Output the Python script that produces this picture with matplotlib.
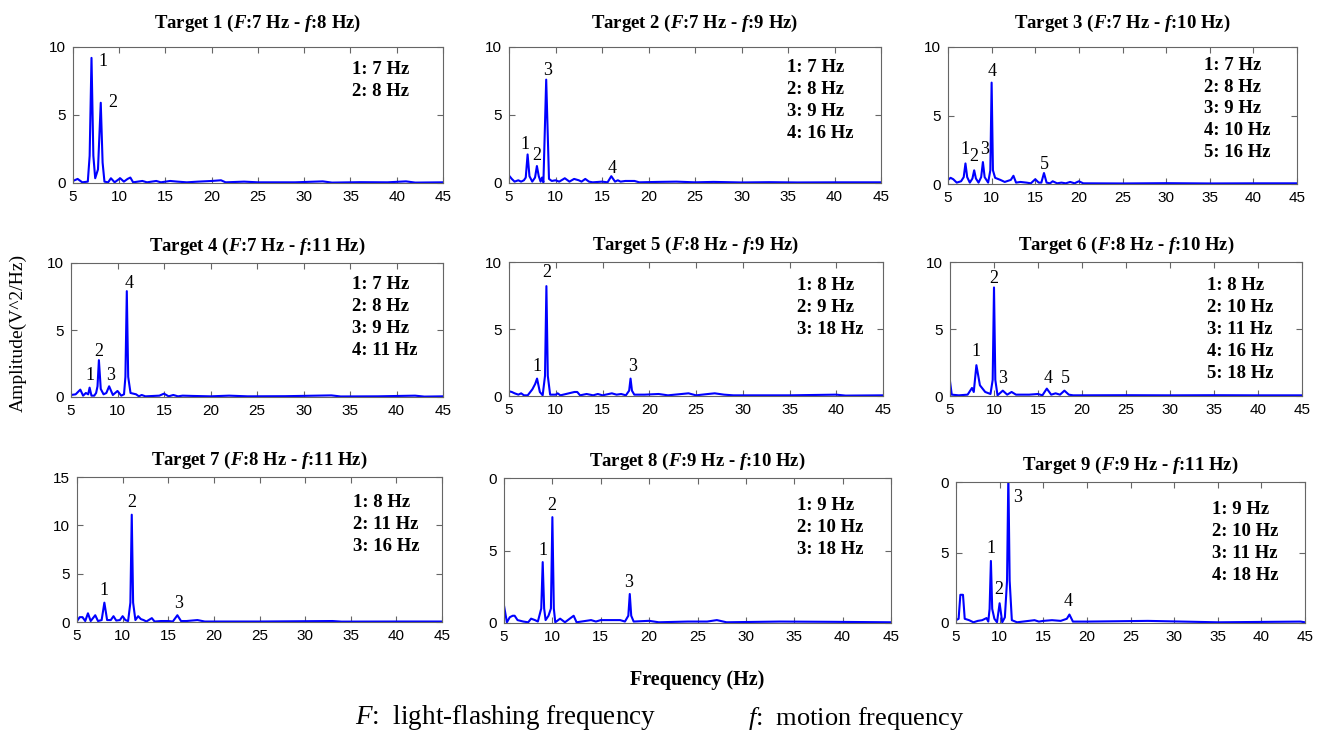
import matplotlib
matplotlib.use("Agg")
import matplotlib.pyplot as plt
import numpy as np

plt.rcParams['mathtext.fontset'] = 'custom'
plt.rcParams['mathtext.rm'] = 'Liberation Serif:bold'
plt.rcParams['mathtext.it'] = 'Liberation Serif:italic:bold'
plt.rcParams['mathtext.sf'] = 'Liberation Serif:italic'
plt.rcParams['mathtext.bf'] = 'Liberation Serif:bold'

# ---------------- data ----------------
titles_F = [7, 7, 7, 7, 8, 8, 8, 9, 9]
titles_f = [8, 9, 10, 11, 9, 10, 11, 10, 11]

peaks_1 = [7, 8]
peaks_2 = [7, 8, 9, 16]
peaks_3 = [7, 8, 9, 10, 16]
peaks_4 = [7, 8, 9, 11]
peaks_5 = [8, 9, 18]
peaks_6 = [8, 10, 11, 16, 18]
peaks_7 = [8, 11, 16]
peaks_8 = [9, 10, 18]
peaks_9 = [9, 10, 11, 18]

freq_1 = [5, 5.5, 6.0, 6.6, 6.8, 7.0, 7.2, 7.4, 7.7, 8.0, 8.2, 8.4, 8.8, 9.1, 9.5, 10.1, 10.5, 10.9, 11.2,
          11.5, 12.5, 13, 14, 14.5, 15.5, 16.3, 17.3, 18.5, 20, 21, 21.5, 23.5, 25, 27, 29, 32, 33, 36, 39, 41, 42, 45]
amp_1 = [0.15, 0.3, 0.05, 0.1, 2.0, 9.2, 2.0, 0.35, 1.0, 5.9, 1.5, 0.1, 0.05, 0.35, 0.05, 0.35, 0.1, 0.3, 0.4,
         0.05, 0.15, 0.05, 0.15, 0.05, 0.15, 0.1, 0.05, 0.1, 0.15, 0.2, 0.05, 0.1, 0.05, 0.05, 0.05, 0.12, 0.03, 0.06, 0.05, 0.12, 0.03, 0.05]

freq_2 = [5, 5.3, 5.6, 6.0, 6.3, 6.6, 6.8, 7.0, 7.2, 7.5, 7.8, 8.0, 8.2, 8.4, 8.55, 8.7, 9.0, 9.3, 9.6, 10, 10.4,
          11, 11.5, 12, 12.5, 12.8, 13.2, 13.6, 14, 15, 15.6, 16, 16.4, 16.7, 17, 17.5, 18.5, 19, 21, 23, 25, 27, 30, 33, 36, 40, 45]
amp_2 = [0.55, 0.3, 0.1, 0.2, 0.1, 0.2, 0.4, 2.1, 0.5, 0.1, 0.4, 1.25, 0.5, 0.1, 0.4, 0.05, 7.6, 0.3, 0.15, 0.2, 0.1,
         0.35, 0.1, 0.3, 0.2, 0.1, 0.3, 0.1, 0.05, 0.1, 0.05, 0.5, 0.1, 0.2, 0.1, 0.15, 0.15, 0.05, 0.08, 0.1, 0.05, 0.08, 0.04, 0.06, 0.04, 0.05, 0.05]

freq_3 = [5, 5.3, 5.6, 6.0, 6.5, 6.8, 7.0, 7.2, 7.5, 7.8, 8.0, 8.2, 8.5, 8.8, 9.0, 9.2, 9.6, 9.85, 10.0, 10.15, 10.4,
          11, 11.5, 12.2, 12.5, 12.8, 13.3, 14, 14.5, 15, 15.4, 15.7, 16, 16.3, 16.7, 17, 17.5, 18, 18.5, 19, 19.5, 20, 20.5, 25, 30, 35, 40, 45]
amp_3 = [0.3, 0.45, 0.35, 0.1, 0.2, 0.5, 1.5, 0.5, 0.1, 0.4, 1.0, 0.4, 0.1, 0.5, 1.6, 0.5, 0.1, 1.0, 7.4, 1.0, 0.45,
         0.3, 0.15, 0.3, 0.6, 0.1, 0.15, 0.1, 0.05, 0.35, 0.1, 0.1, 0.8, 0.1, 0.05, 0.2, 0.05, 0.1, 0.05, 0.15, 0.05, 0.2, 0.05, 0.04, 0.06, 0.04, 0.05, 0.05]

freq_4 = [5, 5.5, 6.0, 6.3, 6.6, 6.85, 7.0, 7.2, 7.5, 7.7, 7.85, 8.0, 8.2, 8.5, 8.8, 9.1, 9.5, 10.0, 10.4, 10.7, 10.85, 11.0,
          11.15, 11.4, 12.0, 12.3, 12.6, 13, 14.5, 15, 15.5, 16, 16.5, 17, 18, 20, 22, 24, 28, 33, 34, 38, 42, 43, 45]
amp_4 = [0.15, 0.2, 0.55, 0.1, 0.3, 0.2, 0.7, 0.1, 0.1, 0.3, 0.8, 2.75, 0.6, 0.2, 0.3, 0.8, 0.15, 0.45, 0.1, 0.2, 1.5, 7.9,
         1.5, 0.3, 0.2, 0.05, 0.15, 0.05, 0.1, 0.25, 0.05, 0.15, 0.05, 0.1, 0.08, 0.05, 0.1, 0.05, 0.06, 0.12, 0.04, 0.05, 0.1, 0.03, 0.05]

freq_5 = [5, 5.3, 5.6, 6.0, 6.3, 6.6, 7.0, 7.5, 7.8, 8.0, 8.3, 8.6, 8.85, 9.0, 9.15, 9.4, 10, 10.2, 10.5, 12, 12.3, 12.6,
          13.3, 14, 14.5, 15, 16, 16.5, 17, 17.5, 17.85, 18, 18.15, 18.4, 19.5, 21, 22, 24.2, 25, 26.3, 27, 28, 29, 35, 40, 41, 45]
amp_5 = [0.35, 0.3, 0.2, 0.1, 0.2, 0.05, 0.05, 0.5, 0.9, 1.3, 0.3, 0.05, 1.5, 8.2, 1.5, 0.1, 0.1, 0.2, 0.05, 0.3, 0.3, 0.05,
         0.15, 0.05, 0.15, 0.05, 0.2, 0.1, 0.15, 0.05, 0.4, 1.3, 0.4, 0.1, 0.1, 0.15, 0.05, 0.2, 0.05, 0.15, 0.2, 0.1, 0.05, 0.05, 0.1, 0.03, 0.05]

freq_6 = [5, 5.2, 6, 7, 7.2, 7.5, 7.7, 8.0, 8.4, 9.0, 9.6, 9.85, 10.0, 10.15, 10.4, 11, 11.5, 12, 12.5, 13, 14, 15, 15.5,
          16, 16.5, 17, 17.5, 18, 18.5, 19, 25, 30, 35, 40, 45]
amp_6 = [1.1, 0.1, 0.05, 0.1, 0.3, 0.6, 0.3, 2.3, 0.8, 0.3, 0.15, 1.2, 8.1, 1.2, 0.05, 0.4, 0.1, 0.3, 0.1, 0.1, 0.1, 0.15, 0.05,
         0.55, 0.1, 0.2, 0.1, 0.4, 0.1, 0.05, 0.06, 0.05, 0.06, 0.05, 0.05]

freq_7 = [5, 5.3, 5.6, 5.9, 6.2, 6.5, 7.0, 7.3, 7.7, 8.0, 8.3, 8.7, 9.0, 9.3, 9.7, 10.0, 10.3, 10.6, 10.85, 11.0, 11.15,
          11.4, 11.7, 12.0, 12.3, 12.6, 13.2, 13.5, 14.2, 15, 15.5, 16, 16.4, 17, 18.2, 19, 25, 33, 34, 40, 45]
amp_7 = [0.1, 0.5, 0.5, 0.1, 0.9, 0.1, 0.7, 0.1, 0.2, 2.0, 0.2, 0.2, 0.6, 0.15, 0.2, 0.6, 0.2, 0.1, 2.0, 11.1, 2.0,
         0.2, 0.6, 0.3, 0.2, 0.05, 0.4, 0.05, 0.1, 0.1, 0.05, 0.7, 0.1, 0.1, 0.2, 0.05, 0.05, 0.1, 0.04, 0.05, 0.05]

freq_8 = [5, 5.3, 5.6, 5.9, 6.1, 6.4, 7, 7.5, 7.8, 8.2, 8.5, 8.85, 9.0, 9.15, 9.3, 9.6, 9.85, 10.0, 10.15, 10.3, 10.8, 11.3,
          12.2, 12.5, 14, 14.5, 15, 16, 17, 17.5, 17.85, 18, 18.15, 18.4, 20, 21, 24, 26, 27, 28, 33.5, 39, 45]
amp_8 = [1.2, 0.05, 0.4, 0.5, 0.5, 0.2, 0.1, 0.05, 0.3, 0.2, 0.1, 1.0, 4.2, 1.0, 0.2, 0.5, 1.0, 7.3, 1.0, 0.05, 0.3, 0.05,
         0.5, 0.05, 0.2, 0.1, 0.2, 0.2, 0.2, 0.1, 0.5, 2.0, 0.5, 0.1, 0.15, 0.05, 0.1, 0.1, 0.2, 0.05, 0.1, 0.08, 0.05]

freq_9 = [5, 5.3, 5.5, 5.8, 6.0, 6.5, 7, 7.5, 8, 8.5, 8.7, 8.85, 9.0, 9.15, 9.4, 9.7, 10.0, 10.3, 10.6, 10.85, 11.0, 11.15,
          11.4, 12, 14, 14.5, 15, 16, 17, 17.7, 18, 18.4, 20, 27, 35, 44.5, 45]
amp_9 = [0.2, 0.3, 2.0, 2.0, 0.3, 0.2, 0.05, 0.15, 0.2, 0.35, 0.1, 1.0, 4.4, 1.0, 0.3, 0.05, 1.4, 0.05, 0.4, 3.0, 10.5, 3.0,
         0.2, 0.05, 0.2, 0.1, 0.15, 0.2, 0.15, 0.3, 0.6, 0.1, 0.1, 0.15, 0.05, 0.1, 0.05]

freqs = [freq_1, freq_2, freq_3, freq_4, freq_5, freq_6, freq_7, freq_8, freq_9]
amps = [amp_1, amp_2, amp_3, amp_4, amp_5, amp_6, amp_7, amp_8, amp_9]
peaks = [peaks_1, peaks_2, peaks_3, peaks_4, peaks_5, peaks_6, peaks_7, peaks_8, peaks_9]

x_ticks = [5, 10, 15, 20, 25, 30, 35, 40, 45]

# ---------------- layout (pixels) ----------------
W, H = 1321, 732
axes_px = [  # left, right, top, bottom
    (73, 443, 47, 183), (509, 881, 47, 183), (948, 1297, 47, 184),
    (71, 443, 263, 397), (509, 883, 262, 396), (950, 1302, 262, 396),
    (77, 442, 477, 622), (504, 891, 478, 623), (956, 1305, 482, 623),
]
ylims = [10, 10, 10, 10, 10, 10, 15, 10, 10]
ytick_labels = [None] * 7 + [['0', '5', '0'], ['0', '5', '0']]
legend_pos = [(0.754, 0.90), (0.747, 0.91), (0.733, 0.93), (0.755, 0.90), (0.77, 0.89),
              (0.73, 0.89), (0.756, 0.88), (0.757, 0.87), (0.733, 0.865)]
label_pos = [
    [(8.2, 8.9), (9.3, 5.9)],
    [(6.7, 2.8), (8.0, 2.0), (9.1, 8.3), (16.1, 1.1)],
    [(6.95, 2.5), (8.0, 2.0), (9.2, 2.5), (10.0, 8.2), (16.0, 1.4)],
    [(7.0, 1.6), (8.0, 3.4), (9.3, 1.6), (11.2, 8.5)],
    [(8.0, 2.2), (9.06, 9.2), (18.2, 2.2)],
    [(7.95, 3.3), (10.0, 8.8), (11.0, 1.3), (16.1, 1.3), (18.1, 1.3)],
    [(7.96, 3.3), (11.0, 12.4), (16.1, 1.9)],
    [(9.0, 5.0), (9.96, 8.1), (17.9, 2.8)],
    [(9.0, 5.3), (9.9, 2.4), (12.1, 8.9), (17.8, 1.5)],
]

fig = plt.figure(figsize=(W / 100, H / 100), dpi=100)
serif = 'Liberation Serif'
sans = 'Liberation Sans'

for i in range(9):
    l, r, t, b = axes_px[i]
    ax = fig.add_axes([l / W, 1 - b / H, (r - l) / W, (b - t) / H])
    ax.plot(freqs[i], amps[i], color='#0000ff', lw=1.5, clip_on=True)
    ax.set_xlim(5, 45)
    ax.set_ylim(0, ylims[i])
    ax.set_xticks(x_ticks)
    yt = [0, 5, 10] if ylims[i] == 10 else [0, 5, 10, 15]
    ax.set_yticks(yt)
    if ytick_labels[i] is not None:
        ax.set_yticklabels(ytick_labels[i])
    ax.tick_params(direction='in', top=True, right=True, length=4, width=0.8,
                   color='#666666', labelsize=11, pad=5)
    for lab in ax.get_xticklabels() + ax.get_yticklabels():
        lab.set_fontfamily(sans)
    for s in ax.spines.values():
        s.set_color('#666666')
        s.set_linewidth(0.8)
    ax.set_title(f"Target {i+1} ($\\mathit{{F}}$:{titles_F[i]} Hz - $\\mathit{{f}}$:{titles_f[i]} Hz)",
                 fontfamily=serif, fontweight='bold', fontsize=13.5, pad=14 if i < 3 else 9)
    leg = "\n".join(f"{k+1}: {p} Hz" for k, p in enumerate(peaks[i]))
    ax.text(legend_pos[i][0], legend_pos[i][1], leg, transform=ax.transAxes, ha='left', va='top',
            fontfamily=serif, fontweight='bold', fontsize=13.5, linespacing=1.38)
    for k, (lx, ly) in enumerate(label_pos[i]):
        ax.text(lx, ly, str(k + 1), ha='center', va='center', fontfamily=serif, fontsize=13, clip_on=False)

fig.text(18 / W, 1 - 333 / H, "Amplitude(V^2/Hz)", rotation=90, ha='center', va='center',
         fontfamily=serif, fontsize=14)
fig.text(697 / W, 1 - 680 / H, "Frequency (Hz)", ha='center', va='center',
         fontfamily=serif, fontweight='bold', fontsize=14.5)
fig.text(355 / W, 1 - 718 / H, "$\\mathsf{F}$:  light-flashing frequency", ha='left', va='center',
         fontfamily=serif, fontsize=19.5)
fig.text(748 / W, 1 - 718 / H, "$\\mathsf{f}$:  motion frequency", ha='left', va='center',
         fontfamily=serif, fontsize=19)

fig.savefig("out.png", dpi=100, facecolor='white')
